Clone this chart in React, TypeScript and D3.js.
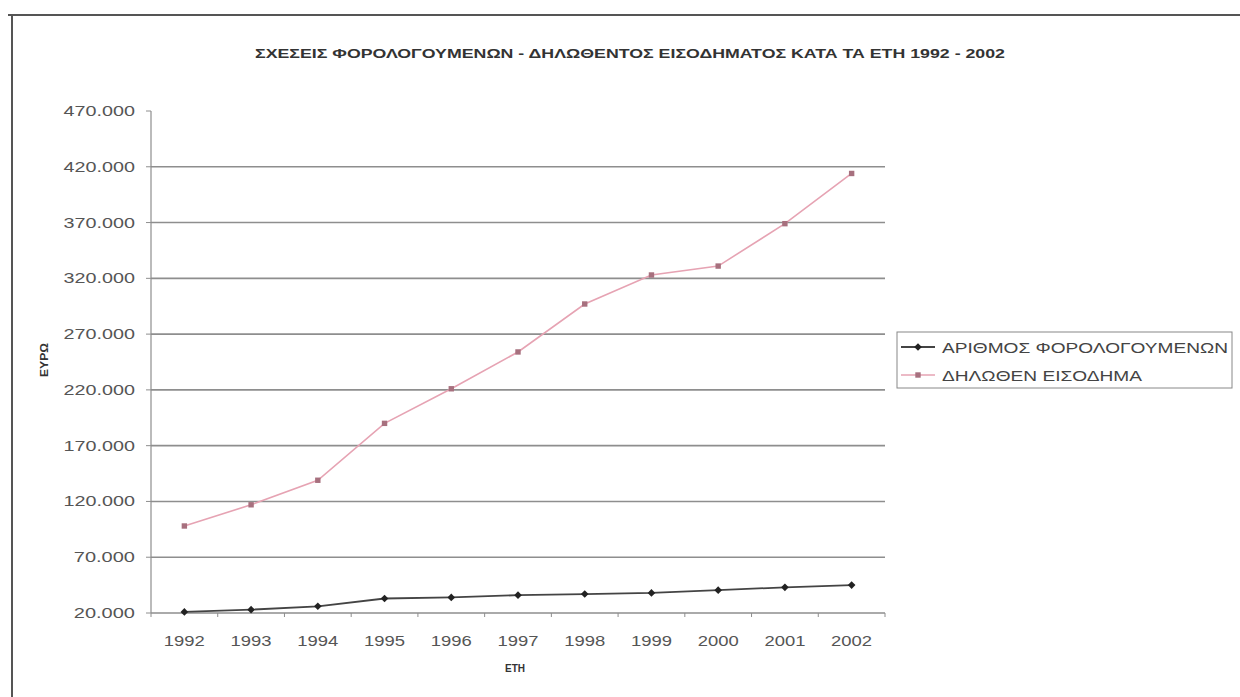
import React from "react";
import * as d3 from "d3";

const years = ["1992", "1993", "1994", "1995", "1996", "1997", "1998", "1999", "2000", "2001", "2002"];
const taxpayers = [21000, 23000, 26000, 33000, 34000, 36000, 37000, 38000, 40500, 43000, 45000];
const income = [98000, 117000, 139000, 190000, 221000, 254000, 297000, 323000, 331000, 369000, 414000];
const yTicks = [20000, 70000, 120000, 170000, 220000, 270000, 320000, 370000, 420000, 470000];
const seriesNames = ["ΑΡΙΘΜΟΣ ΦΟΡΟΛΟΓΟΥΜΕΝΩΝ", "ΔΗΛΩΘΕΝ ΕΙΣΟΔΗΜΑ"];
const title = "ΣΧΕΣΕΙΣ ΦΟΡΟΛΟΓΟΥΜΕΝΩΝ - ΔΗΛΩΘΕΝΤΟΣ ΕΙΣΟΔΗΜΑΤΟΣ ΚΑΤΑ ΤΑ ΕΤΗ 1992 - 2002";
const yTitle = "ΕΥΡΩ";
const xTitle = "ΕΤΗ";

const W = 1240, H = 697;
const left = 151, right = 885, top = 111, bottom = 613;
const font = "Liberation Sans, Arial, sans-serif";

const fmt = (v: number) => d3.format(",")(v).replace(/,/g, ".");

export default function App() {
  const x = d3.scaleBand<string>().domain(years).range([left, right]);
  const y = d3.scaleLinear().domain([20000, 470000]).range([bottom, top]);
  const cx = (d: string) => (x(d) as number) + x.bandwidth() / 2;
  const line = d3.line<number>().x((_, i) => cx(years[i])).y((v) => y(v));

  const blackColor = "#222";
  const pinkLine = "#e6a3b3";
  const pinkMark = "#a7707e";
  const grid = "#8e8e8e";
  const label = "#555";

  const diamond = (px: number, py: number, s = 3.8) =>
    `M${px},${py - s}L${px + s},${py}L${px},${py + s}L${px - s},${py}Z`;

  return (
    <svg width={W} height={H} style={{ position: "absolute", left: 0, top: 0, background: "#fff" }}>
      <rect x={0} y={0} width={W} height={H} fill="#fff" />
      {/* frame */}
      <line x1={8} y1={15} x2={W} y2={15} stroke="#555" strokeWidth={2} />
      <line x1={12} y1={15} x2={12} y2={H} stroke="#555" strokeWidth={2} />

      <text x={630} y={58} textAnchor="middle" fontFamily={font} fontWeight="bold" fontSize={12}
        fill="#333" textLength={750} lengthAdjust="spacingAndGlyphs">{title}</text>

      {/* gridlines */}
      {yTicks.filter((t) => t > 20000 && t < 470000).map((t) => (
        <line key={t} x1={left} x2={right} y1={y(t)} y2={y(t)} stroke={grid} strokeWidth={1.6} />
      ))}

      {/* axes */}
      <line x1={left} x2={left} y1={top} y2={bottom} stroke={grid} strokeWidth={1.2} />
      <line x1={left} x2={right} y1={bottom} y2={bottom} stroke={grid} strokeWidth={1.6} />
      {yTicks.map((t) => (
        <g key={t}>
          <line x1={left - 5} x2={left} y1={y(t)} y2={y(t)} stroke={grid} />
          <text x={135} y={y(t) + 5} textAnchor="end" fontFamily={font} fontSize={14} fill={label}
            textLength={fmt(t).length * 10.2} lengthAdjust="spacingAndGlyphs">{fmt(t)}</text>
        </g>
      ))}
      {years.map((yr) => (
        <line key={"t" + yr} x1={x(yr) as number} x2={x(yr) as number} y1={bottom} y2={bottom + 4} stroke={grid} />
      ))}
      <line x1={right} x2={right} y1={bottom} y2={bottom + 4} stroke={grid} />
      {years.map((yr) => (
        <text key={"l" + yr} x={cx(yr)} y={646} textAnchor="middle" fontFamily={font} fontSize={14} fill={label}
          textLength={41} lengthAdjust="spacingAndGlyphs">{yr}</text>
      ))}
      <text x={515} y={672} textAnchor="middle" fontFamily={font} fontWeight="bold" fontSize={10} fill="#333"
        textLength={20} lengthAdjust="spacingAndGlyphs">{xTitle}</text>
      <text transform={`translate(48,360) rotate(-90)`} textAnchor="middle" fontFamily={font} fontWeight="bold"
        fontSize={10} fill="#333" textLength={34} lengthAdjust="spacingAndGlyphs">{yTitle}</text>

      {/* series */}
      <path d={line(income) as string} fill="none" stroke={pinkLine} strokeWidth={1.6} />
      {income.map((v, i) => (
        <rect key={"p" + i} x={cx(years[i]) - 2.7} y={y(v) - 2.7} width={5.4} height={5.4} fill={pinkMark} />
      ))}
      <path d={line(taxpayers) as string} fill="none" stroke="#444" strokeWidth={1.8} />
      {taxpayers.map((v, i) => (
        <path key={"b" + i} d={diamond(cx(years[i]), y(v))} fill={blackColor} />
      ))}

      {/* legend */}
      <rect x={897} y={332} width={335} height={56} fill="none" stroke="#888" strokeWidth={1} />
      <line x1={901} x2={935} y1={347} y2={347} stroke="#444" strokeWidth={1.8} />
      <path d={diamond(918, 347)} fill={blackColor} />
      <text x={942} y={353} fontFamily={font} fontSize={15} fill="#444" textLength={286}
        lengthAdjust="spacingAndGlyphs">{seriesNames[0]}</text>
      <line x1={901} x2={935} y1={375} y2={375} stroke={pinkLine} strokeWidth={1.6} />
      <rect x={915.3} y={372.3} width={5.4} height={5.4} fill={pinkMark} />
      <text x={942} y={381} fontFamily={font} fontSize={15} fill="#444" textLength={200}
        lengthAdjust="spacingAndGlyphs">{seriesNames[1]}</text>
    </svg>
  );
}
